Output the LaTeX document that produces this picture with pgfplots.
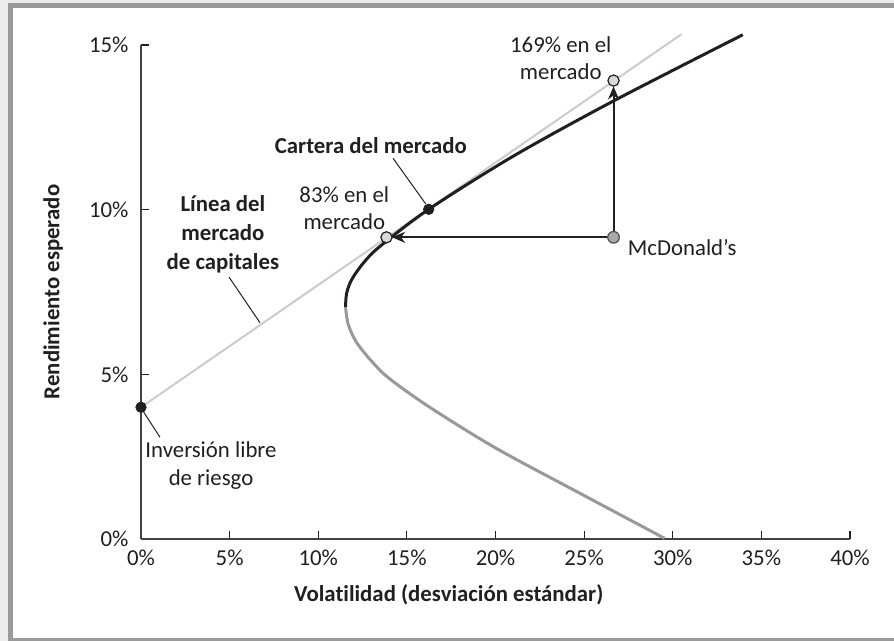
\documentclass[border=0pt]{standalone}
\usepackage{fontspec}
\setmainfont{Carlito}[Ligatures={TeX,NoCommon}]
\usepackage{pgfplots}
\pgfplotsset{compat=1.18}
\usetikzlibrary{arrows.meta}
\definecolor{ink}{HTML}{231F20}
\definecolor{cmlgray}{HTML}{CCCCCC}
\definecolor{lowgray}{HTML}{999999}
\definecolor{framegray}{HTML}{9A9A9A}
\definecolor{outergray}{HTML}{ECECEC}
\definecolor{dotfill}{HTML}{D9D9D9}
\definecolor{mcdfill}{HTML}{A8A8A8}
\newcommand\lab{\fontsize{11.4}{14}\selectfont}

\begin{document}
\begin{tikzpicture}[font=\lab, text=ink]
% background and frame
\fill[outergray] (-70.5pt,-51pt) rectangle (376.5pt,269.5pt);
\draw[framegray, line width=2.5pt, fill=white] (-65.25pt,-50.75pt) rectangle (385pt,266.75pt);
\begin{axis}[
    at={(0,0)}, anchor=south west,
    scale only axis, width=354.5pt, height=247pt,
    xmin=0, xmax=40, ymin=0, ymax=15,
    clip=false,
    axis lines=left,
    axis line style={-, ink!85, line width=0.75pt},
    xtick={0,5,...,40}, ytick={0,5,10,15},
    tick style={ink, line width=0.6pt},
    major tick length=4pt, tick align=inside,
    tick label style={font=\lab},
    xticklabel={\pgfmathprintnumber[assume math mode=true]{\tick}\%},
    yticklabel={\pgfmathprintnumber[assume math mode=true]{\tick}\%},
    xticklabel style={yshift=-2pt},
    yticklabel style={xshift=-2.7pt},
    xlabel={Volatilidad (desviación estándar)},
    ylabel={Rendimiento esperado},
    label style={font=\lab\bfseries},
    xlabel style={at={(axis description cs:0.434,-0.112)}, anchor=center},
    ylabel style={at={(axis description cs:-0.124,0.5)}, anchor=center},
]
% capital market line
\addplot[cmlgray, line width=1pt] coordinates {(0,4) (30.5,15.33)};
% inefficient part of the frontier
\addplot[lowgray, line width=1.5pt, smooth] coordinates {
    (11.54,7.05) (11.69,6.52) (12.16,5.97) (13.09,5.35) (14.04,4.86)
    (16.29,4.00) (20.05,2.75) (24.93,1.34) (29.54,0.02)};
% efficient frontier
\addplot[ink, line width=1.5pt, smooth] coordinates {
    (11.54,7.05) (11.60,7.46) (11.88,7.87) (12.53,8.37) (13.47,8.88)
    (16.23,10.01) (20.99,11.62) (26.62,13.29) (33.95,15.31)};

% arrows from McDonald's
\addplot[ink, line width=1pt, -{Stealth[length=6.5pt,width=5.5pt,inset=2pt]}, shorten >=2.8pt]
    coordinates {(26.66,9.16) (13.85,9.16)};
\addplot[ink, line width=1pt, -{Stealth[length=6.5pt,width=5.5pt,inset=2pt]}, shorten >=2.9pt]
    coordinates {(26.66,9.16) (26.66,13.92)};

% points
\addplot[only marks, mark=*, mark size=2.6pt, mark options={fill=ink, draw=ink}]
    coordinates {(0,4) (16.23,10.01)};
\addplot[only marks, mark=*, mark size=2.8pt, mark options={fill=dotfill, draw=ink, line width=0.6pt}]
    coordinates {(13.85,9.16) (26.66,13.92)};
\addplot[only marks, mark=*, mark size=2.9pt, mark options={fill=mcdfill, draw=ink!80, line width=0.6pt}]
    coordinates {(26.66,9.16)};

% leader lines
\draw[ink, line width=0.5pt] (axis cs:14.22,11.56) -- (axis cs:16.07,10.17);
\draw[ink, line width=0.5pt] (axis cs:4.97,7.95) -- (axis cs:6.71,6.57);
\draw[ink, line width=0.5pt] (axis cs:0,3.98) -- (axis cs:1.07,3.09);

% labels
\node[font=\lab\bfseries] at (axis cs:12.97,11.96) {Cartera del mercado};
\node[align=center, font=\fontsize{11.4}{14.5}\selectfont\bfseries] at (axis cs:4.62,9.26) {Línea del\\mercado\\de capitales};
\node[align=center] at (axis cs:3.95,2.22) {Inversión libre\\de riesgo};
\node[align=center, font=\fontsize{11.4}{13.4}\selectfont] at (axis cs:11.47,10.04) {83\% en el\\mercado};
\node[align=center, font=\fontsize{11.4}{13.4}\selectfont] at (axis cs:23.68,14.59) {169\% en el\\mercado};
\node[anchor=west, inner sep=0pt] at (axis cs:27.45,8.84) {McDonald's};
\end{axis}
\pgfresetboundingbox
\useasboundingbox (-70.5pt,-51pt) rectangle (376.5pt,269.5pt);
\end{tikzpicture}
\end{document}
